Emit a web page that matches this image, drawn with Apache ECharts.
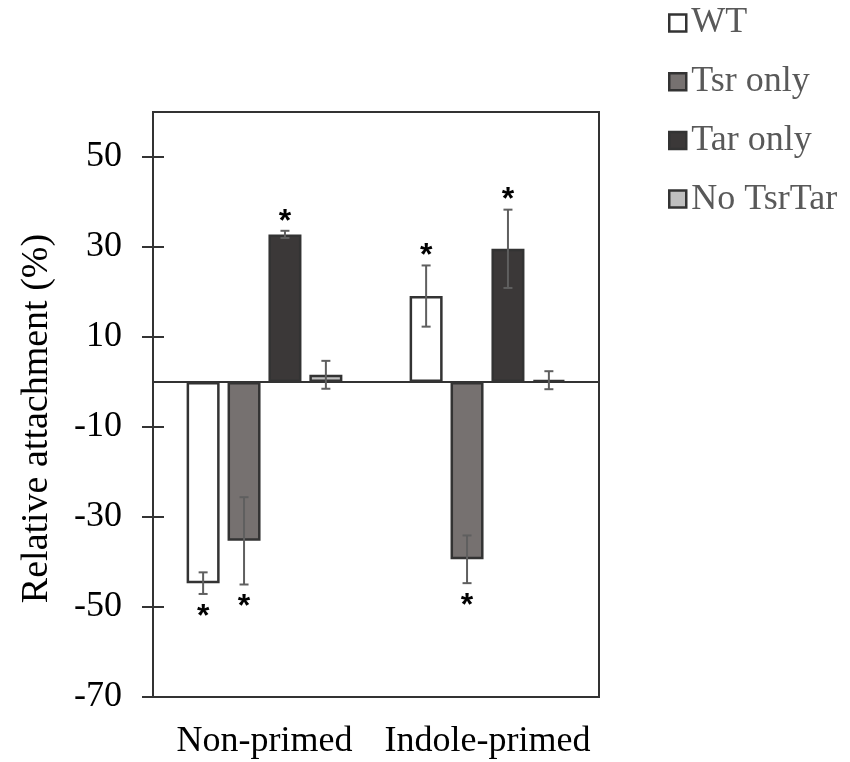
<!DOCTYPE html>
<html>
<head>
<meta charset="utf-8">
<script src="https://cdn.jsdelivr.net/npm/echarts@6/dist/echarts.min.js"></script>
<style>
  html, body { margin: 0; padding: 0; background: #fff; }
  #chart { width: 850px; height: 762px; }
</style>
</head>
<body>
<div id="chart"></div>
<script>
// Categories and strains
const categories = ['Non-primed', 'Indole-primed'];
const seriesNames = ['WT', 'Tsr only', 'Tar only', 'No TsrTar'];

// Relative attachment (%) means and error (±)
const wtValues = [-44.7, 19.1];
const wtErrors = [2.4, 6.8];
const tsrValues = [-35.3, -39.4];
const tsrErrors = [9.7, 5.3];
const tarValues = [32.8, 29.6];
const tarErrors = [0.8, 8.7];
const noTsrTarValues = [1.6, 0.4];
const noTsrTarErrors = [3.1, 2.0];

// Significance markers (*) per strain, per category
const wtSig = [true, true];
const tsrSig = [true, true];
const tarSig = [true, true];
const noTsrTarSig = [false, false];

// Y axis tick labels
const yTicks = [-70, -50, -30, -10, 10, 30, 50];
const yMin = -70;
const yMax = 60;

const fills = ['#ffffff', '#767170', '#3b3838', '#bfbfbf'];
const borderColor = '#333333';
const errColor = '#5f5f5f';
const serif = "'Liberation Serif', 'Times New Roman', serif";
const sans = "'Liberation Sans', Arial, sans-serif";

const values = [wtValues, tsrValues, tarValues, noTsrTarValues];
const errors = [wtErrors, tsrErrors, tarErrors, noTsrTarErrors];
const sigs = [wtSig, tsrSig, tarSig, noTsrTarSig];

const BAR_W = 33;
const BAR_GAP = 0.24;
const TICK_LEN = 11;

// horizontal offset of bar k inside its category group
function barOffset(k) {
  const n = seriesNames.length;
  const step = BAR_W * (1 + BAR_GAP);
  const total = n * BAR_W + (n - 1) * BAR_W * BAR_GAP;
  return -total / 2 + k * step + BAR_W / 2;
}

const barSeries = seriesNames.map((name, k) => {
  const s = {
    name: name,
    type: 'bar',
    barWidth: BAR_W,
    barGap: (BAR_GAP * 100) + '%',
    data: values[k],
    itemStyle: { color: fills[k], borderColor: borderColor, borderWidth: 2.5 },
    z: 2
  };
  if (k === 0) {
    s.markLine = {
      silent: true,
      symbol: 'none',
      label: { show: false },
      lineStyle: { color: borderColor, width: 2, type: 'solid' },
      data: [{ yAxis: 0 }],
      z: 3
    };
  }
  return s;
});

// error bars, significance stars, and the inner half of each y tick
const errData = [];
seriesNames.forEach((name, k) => {
  categories.forEach((c, i) => {
    errData.push([i, values[k][i], errors[k][i], k, sigs[k][i] ? 1 : 0]);
  });
});

const errSeries = {
  type: 'custom',
  name: 'err',
  z: 5,
  silent: true,
  clip: false,
  encode: { x: 0, y: 1 },
  data: errData,
  renderItem: function (params, api) {
    const cat = api.value(0);
    const mean = api.value(1);
    const err = api.value(2);
    const k = api.value(3);
    const sig = api.value(4);
    const x = api.coord([cat, mean])[0] + barOffset(k);
    const yHi = api.coord([cat, mean + err])[1];
    const yLo = api.coord([cat, mean - err])[1];
    const cap = 4.5;
    const ls = { stroke: errColor, lineWidth: 2 };
    const children = [
      { type: 'line', shape: { x1: x, y1: yHi, x2: x, y2: yLo }, style: ls },
      { type: 'line', shape: { x1: x - cap, y1: yHi, x2: x + cap, y2: yHi }, style: ls },
      { type: 'line', shape: { x1: x - cap, y1: yLo, x2: x + cap, y2: yLo }, style: ls }
    ];
    if (sig) {
      const yStar = mean >= 0 ? yHi - 15 : yLo + 17;
      children.push({
        type: 'text',
        style: {
          text: '*', x: x, y: yStar + 6,
          fill: '#000', font: 'bold 32px ' + sans,
          textAlign: 'center', textVerticalAlign: 'middle'
        }
      });
    }
    if (cat === 0 && k === 0) {
      const p0 = api.coord([0, 0])[0];
      const p1 = api.coord([1, 0])[0];
      const axisX = p0 - (p1 - p0) / 2;
      yTicks.forEach(function (v) {
        const ty = api.coord([0, v])[1];
        children.push({
          type: 'rect',
          shape: { x: axisX, y: ty - 1, width: TICK_LEN, height: 2 },
          style: { fill: borderColor }
        });
      });
    }
    return { type: 'group', children: children };
  }
};

const chart = echarts.init(document.getElementById('chart'), null, { renderer: 'canvas' });
chart.setOption({
  animation: false,
  backgroundColor: '#ffffff',
  textStyle: { fontFamily: serif },
  grid: {
    left: 153, right: 251, top: 112, bottom: 65,
    show: true, borderColor: borderColor, borderWidth: 2,
    backgroundColor: 'transparent'
  },
  legend: {
    orient: 'vertical',
    left: 663,
    top: 0,
    icon: 'rect',
    itemWidth: 17,
    itemHeight: 17,
    itemGap: 22.7,
    data: seriesNames,
    itemStyle: { borderColor: borderColor, borderWidth: 2.5 },
    textStyle: {
      fontFamily: serif, fontSize: 36, color: '#595959',
      lineHeight: 36
    }
  },
  xAxis: {
    type: 'category',
    data: categories,
    position: 'bottom',
    axisLine: { show: false, onZero: false },
    axisTick: { show: false },
    axisLabel: { fontFamily: serif, fontSize: 36, color: '#000', margin: 27, interval: 0, hideOverlap: false },
    splitLine: { show: false }
  },
  yAxis: {
    type: 'value',
    min: yMin, max: yMax,
    name: 'Relative attachment (%)',
    nameLocation: 'middle',
    nameRotate: 90,
    nameGap: 97,
    nameTextStyle: { fontFamily: serif, fontSize: 38, color: '#000', padding: [0, 28, 0, 0] },
    axisLine: { show: true, lineStyle: { color: borderColor, width: 2 } },
    axisTick: { show: true, inside: false, length: TICK_LEN, lineStyle: { color: borderColor, width: 2 }, customValues: yTicks },
    axisLabel: { fontFamily: serif, fontSize: 36, color: '#000', margin: 31, customValues: yTicks },
    splitLine: { show: false }
  },
  series: barSeries.concat([errSeries])
});
</script>
</body>
</html>
